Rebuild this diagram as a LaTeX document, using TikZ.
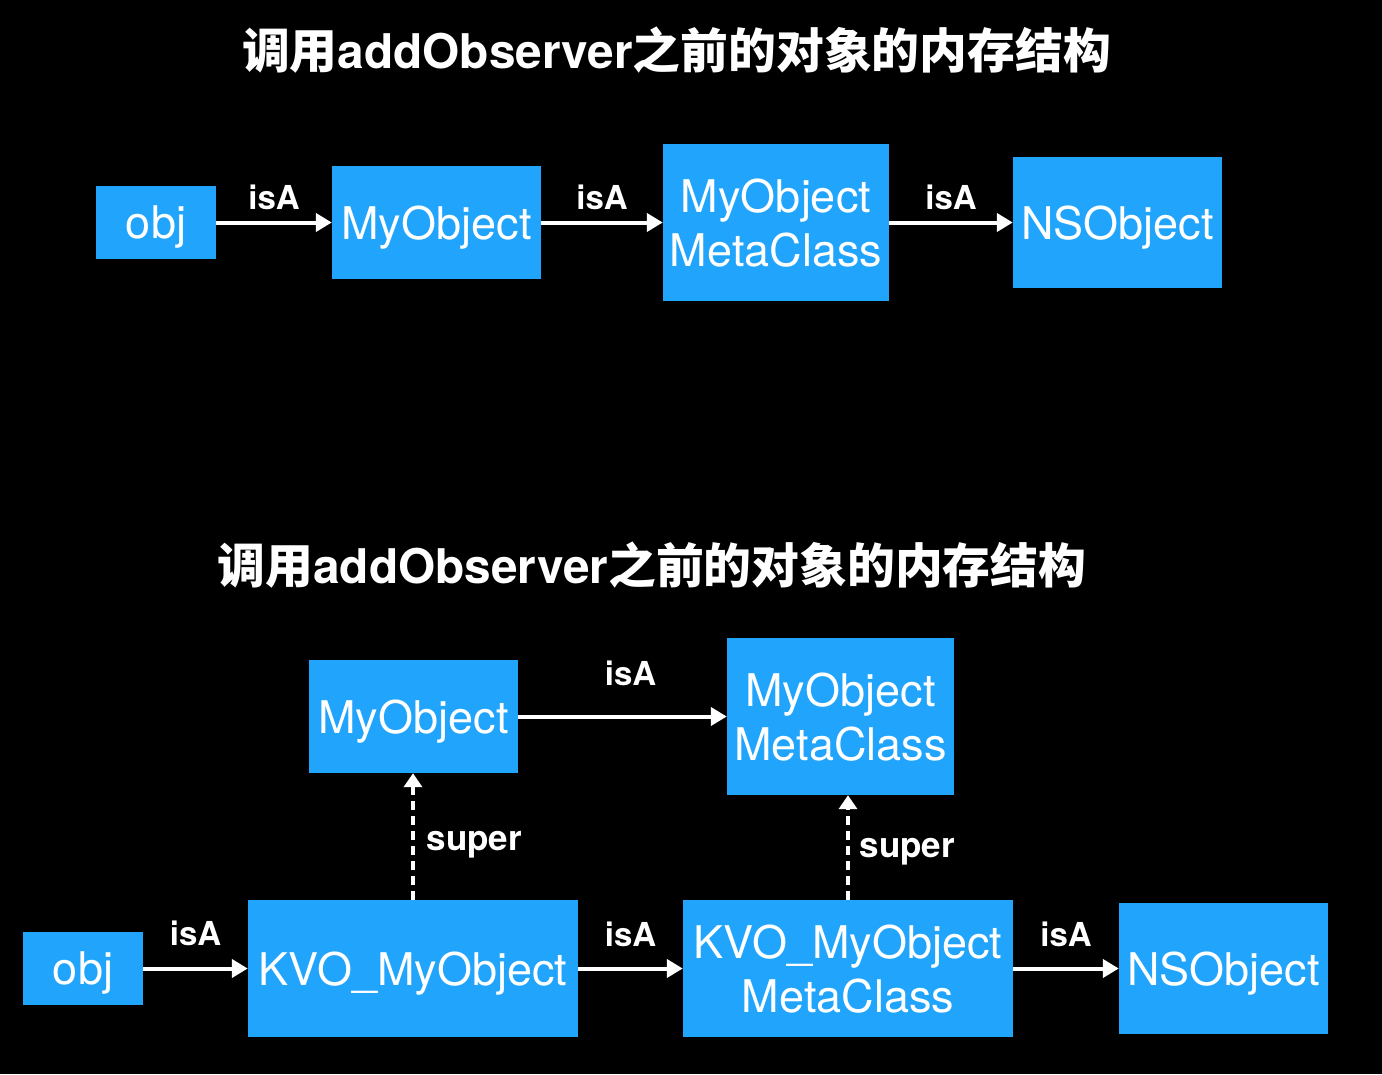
\documentclass[tikz,border=0pt]{standalone}
\usepackage{fontspec}
\setmainfont{TeX Gyre Heros}
\newfontfamily\cjk{Noto Sans CJK SC}
\usetikzlibrary{arrows.meta}
\definecolor{boxblue}{RGB}{32,164,252}
\tikzset{
 box/.style={fill=boxblue, text=white, inner sep=0pt, align=center, text depth=0pt, font=\fontsize{45}{54}\selectfont},
 isa/.style={draw=white, line width=4pt, -{Triangle[length=16pt,width=18pt]}},
 sup/.style={draw=white, line width=3.5pt, dash pattern=on 9pt off 6pt, -{Triangle[length=14pt,width=18pt]}},
 lbl/.style={text=white, font=\bfseries\fontsize{33}{40}\selectfont, inner sep=0pt, anchor=base},
 suplbl/.style={text=white, font=\bfseries\fontsize{35}{40}\selectfont, inner sep=0pt, anchor=base west},
 ttl/.style={text=white, font=\bfseries\fontsize{47.8}{56}\selectfont, inner sep=0pt},
}
\begin{document}
\begin{tikzpicture}[x=1pt,y=-1pt]
\fill[black] (0,0) rectangle (1382,1074);
% titles
\node[ttl] (t1) at (676.5,50) {{\cjk 调用}addObserver{\cjk 之前的对象的内存结构}};
\node[ttl] (t2) at (652,565) {{\cjk 调用}addObserver{\cjk 之前的对象的内存结构}};
% top row
\node[box, minimum width=120pt, minimum height=73pt] (obj1) at (156,222.5) {obj};
\node[box, minimum width=209pt, minimum height=113pt] (my1) at (436.5,222.5) {MyObject};
\node[box, minimum width=226pt, minimum height=157pt] (meta1) at (776,222.5) {MyObject\\MetaClass};
\node[box, minimum width=209pt, minimum height=131pt] (ns1) at (1117.5,222.5) {NSObject};
\draw[isa] (obj1) -- node[lbl, yshift=13pt] {isA} (my1);
\draw[isa] (my1) -- node[lbl, yshift=13pt] {isA} (meta1);
\draw[isa] (meta1) -- node[lbl, yshift=13pt] {isA} (ns1);
% bottom
\node[box, minimum width=209pt, minimum height=113pt] (my2) at (413.5,716.5) {MyObject};
\node[box, minimum width=227pt, minimum height=157pt] (meta2) at (840.5,716.5) {MyObject\\MetaClass};
\node[box, minimum width=120pt, minimum height=73pt] (obj2) at (83,968.5) {obj};
\node[box, minimum width=330pt, minimum height=137pt] (kvo) at (413,968.5) {KVO\_MyObject};
\node[box, minimum width=330pt, minimum height=137pt] (kvometa) at (848,968.5) {KVO\_MyObject\\MetaClass};
\node[box, minimum width=209pt, minimum height=131pt] (ns2) at (1223.5,968.5) {NSObject};
\draw[isa] (my2) -- node[lbl, xshift=8pt, yshift=31pt] {isA} (meta2);
\draw[isa] (obj2) -- node[lbl, yshift=23pt] {isA} (kvo);
\draw[isa] (kvo) -- node[lbl, yshift=22pt] {isA} (kvometa);
\draw[isa] (kvometa) -- node[lbl, yshift=22pt] {isA} (ns2);
\draw[sup] (kvo.north) -- node[suplbl, xshift=12pt, yshift=-13.5pt] {super} (kvo.north |- my2.south);
\draw[sup] (kvometa.north) -- node[suplbl, xshift=10pt, yshift=-10pt] {super} (kvometa.north |- meta2.south);
\end{tikzpicture}
\end{document}
